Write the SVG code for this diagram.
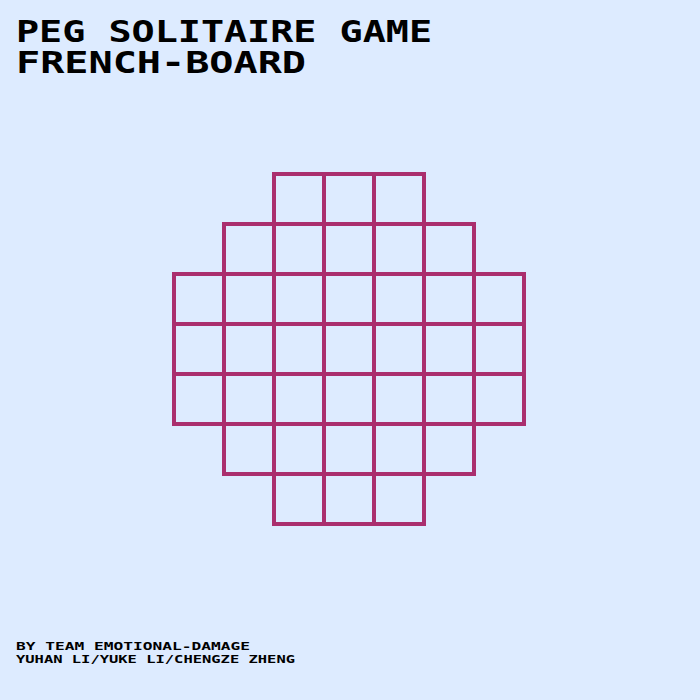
<svg xmlns="http://www.w3.org/2000/svg" width="700" height="700" viewBox="0 0 700 700">
<style>
.t{font-family:"DejaVu Sans Mono","Liberation Mono",monospace;font-weight:bold;fill:#000}
.c{fill:none;stroke:#AA2E6E;stroke-width:4}
</style>
<rect width="700" height="700" fill="#DDEBFF"/>
<g id="title">
<text class="t" x="16" y="42" font-size="30" textLength="416" lengthAdjust="spacingAndGlyphs">PEG SOLITAIRE GAME</text>
<text class="t" x="16" y="73" font-size="30" textLength="290" lengthAdjust="spacingAndGlyphs">FRENCH-BOARD</text>
</g>
<g id="board">
<path class="c" d="M274 174H424V224H474V274H524V424H474V474H424V524H274V474H224V424H174V274H224V224H274Z"/>
<path class="c" d="M324 174V524M374 174V524M274 224V474M424 224V474M224 274V424M474 274V424M224 224H474M174 324H524M174 374H524M224 474H474M274 174V224M224 274H474M224 424H474"/>
</g>
<g id="credits">
<text class="t" x="16" y="650" font-size="11" textLength="234" lengthAdjust="spacingAndGlyphs">BY TEAM EMOTIONAL-DAMAGE</text>
<text class="t" x="16" y="663" font-size="11" textLength="279" lengthAdjust="spacingAndGlyphs">YUHAN LI/YUKE LI/CHENGZE ZHENG</text>
</g>
</svg>
